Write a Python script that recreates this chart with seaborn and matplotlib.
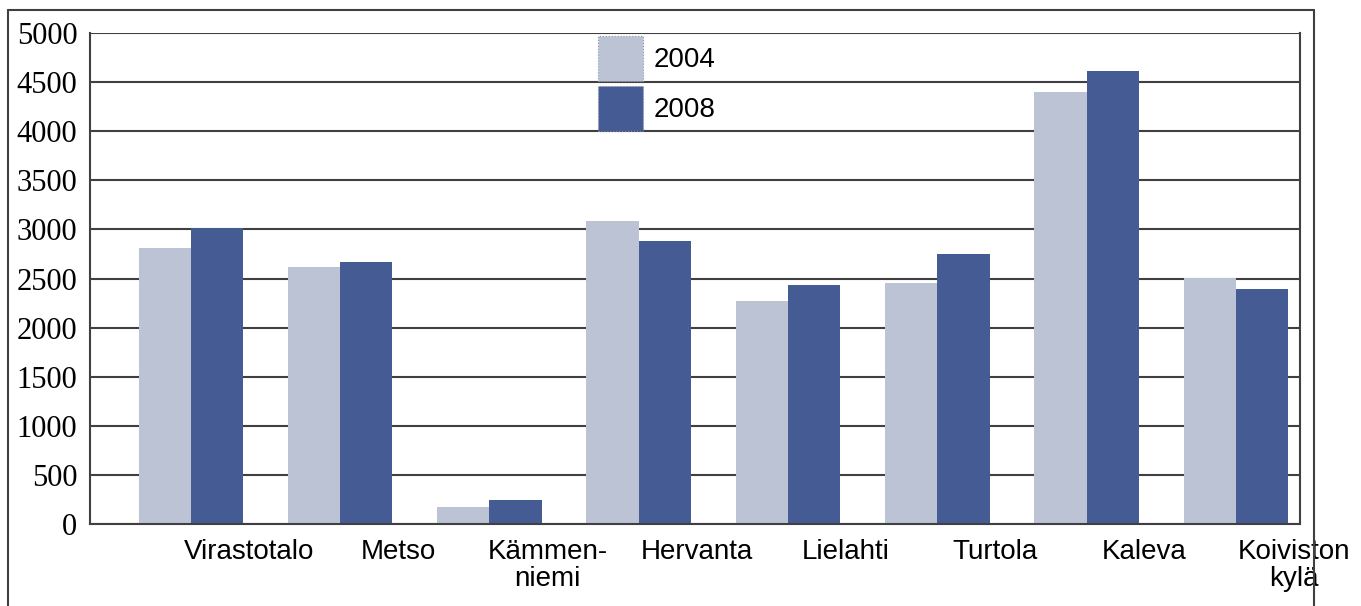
import matplotlib
matplotlib.use("Agg")
import matplotlib.pyplot as plt
import matplotlib.transforms as mtransforms
from matplotlib.lines import Line2D
import pandas as pd
import seaborn as sns

# data
places = ["Virastotalo", "Metso", "Kämmen-\nniemi", "Hervanta", "Lielahti",
          "Turtola", "Kaleva", "Koiviston\nkylä"]
years = ["2004", "2008"]
values_2004 = [2810, 2615, 175, 3085, 2270, 2455, 4400, 2505]
values_2008 = [3015, 2670, 245, 2880, 2435, 2750, 4615, 2395]
colors = {"2004": "#BCC3D4", "2008": "#455B93"}

df = pd.DataFrame({
    "place": places * 2,
    "year": [years[0]] * len(places) + [years[1]] * len(places),
    "value": values_2004 + values_2008,
})

sns.set_theme(style="white")
plt.rcParams["text.color"] = "black"
plt.rcParams["xtick.color"] = "black"
plt.rcParams["ytick.color"] = "black"
narrow = ["Liberation Sans Narrow", "Liberation Sans", "DejaVu Sans"]
serif = ["Liberation Serif", "DejaVu Serif"]

fig = plt.figure(figsize=(13.61, 6.06), dpi=100)
ax = fig.add_axes([90 / 1361, 1 - 524 / 606, 1210 / 1361, 491 / 606])

sns.barplot(data=df, x="place", y="value", hue="year", order=places,
            hue_order=years, palette=colors, width=0.7, saturation=1,
            linewidth=0, ax=ax)

ax.set_ylim(0, 5000)
ax.set_xlim(-0.676, 7.43)
ax.set_yticks(range(0, 5001, 500))
ax.set_axisbelow(True)
ax.yaxis.grid(True, color="#404040", linewidth=1.5)
ax.xaxis.grid(False)
ax.set_xlabel("")
ax.set_ylabel("")

for side in ["left", "right", "bottom"]:
    ax.spines[side].set_visible(True)
    ax.spines[side].set_color("#404040")
    ax.spines[side].set_linewidth(1.5)
ax.spines["top"].set_visible(False)

ax.tick_params(axis="y", length=0, pad=9)
ax.tick_params(axis="x", length=0, pad=11)
for lab in ax.get_yticklabels():
    lab.set_family(serif)
    lab.set_fontsize(22)
    lab.set_color("black")

shift = mtransforms.ScaledTranslation(0.58, 0, fig.dpi_scale_trans)
ax.set_xticks(range(len(places)))
ax.set_xticklabels(places)
for lab in ax.get_xticklabels():
    lab.set_family(narrow)
    lab.set_fontsize(20)
    lab.set_color("black")
    lab.set_linespacing(1.05)
    lab.set_transform(lab.get_transform() + shift)

leg = ax.legend(loc="upper left", bbox_to_anchor=(598 / 1361, 1 - 36 / 606),
                bbox_transform=fig.transFigure, frameon=False, borderpad=0,
                borderaxespad=0, handlelength=1.62, handleheight=2.1,
                labelspacing=0.2, handletextpad=0.4,
                prop={"family": narrow, "size": 20})
for h in leg.legend_handles:
    h.set_edgecolor("#8a93a8")
    h.set_linestyle(":")
    h.set_linewidth(0.8)
for t in leg.get_texts():
    t.set_color("black")

# outer frame of the original figure
frame = dict(color="#404040", linewidth=1.5, transform=fig.transFigure)
fig.add_artist(Line2D([8 / 1361, 8 / 1361], [0, 1 - 10 / 606], **frame))
fig.add_artist(Line2D([8 / 1361, 1314 / 1361], [1 - 10 / 606, 1 - 10 / 606], **frame))
fig.add_artist(Line2D([1314 / 1361, 1314 / 1361], [0, 1 - 10 / 606], **frame))

fig.savefig("out.png", dpi=100, facecolor="white")
